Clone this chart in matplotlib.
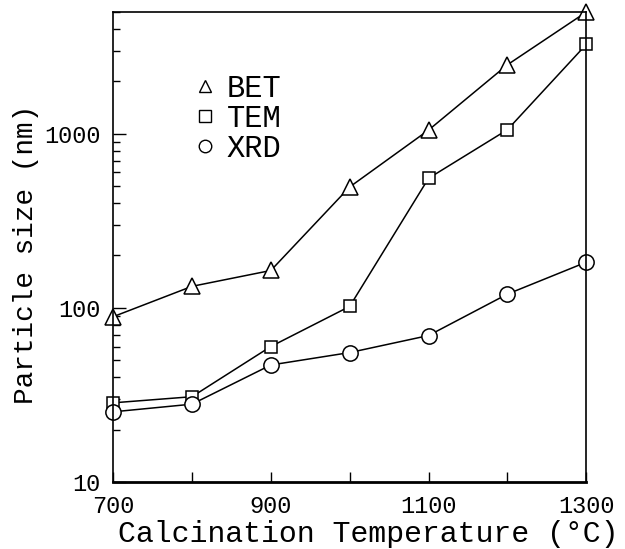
import matplotlib
matplotlib.use("Agg")
import matplotlib.pyplot as plt
from matplotlib.ticker import NullFormatter, LogLocator

# Data
temperatures = [700, 800, 900, 1000, 1100, 1200, 1300]
bet = [89, 133, 164, 495, 1050, 2490, 5000]
tem = [28.5, 30.9, 60, 102, 555, 1055, 3260]
xrd = [25.3, 28, 47, 55.4, 69.4, 120, 183]

x_ticks = [700, 800, 900, 1000, 1100, 1200, 1300]
x_labels = ["700", "", "900", "", "1100", "", "1300"]
y_ticks = [10, 100, 1000]
y_labels = ["10", "100", "1000"]

plt.rcParams['font.family'] = ['Liberation Mono', 'DejaVu Sans']

fig = plt.figure(figsize=(6.25, 5.49), dpi=100)
ax = fig.add_axes([0.181, 0.122, 0.757, 0.856])

style = dict(color='black', lw=1.1, mfc='white', mec='black', mew=1.1, clip_on=False)
ax.plot(temperatures, bet, marker='^', ms=11, **style)
ax.plot(temperatures, tem, marker='s', ms=9, **style)
ax.plot(temperatures, xrd, marker='o', ms=11, **style)

# legend entries: marker only
leg_style = dict(ls='none', mfc='white', mec='black', mew=1.0)
ax.plot([], [], marker='^', ms=9, label='BET', **leg_style)
ax.plot([], [], marker='s', ms=8, label='TEM', **leg_style)
ax.plot([], [], marker='o', ms=9, label='XRD', **leg_style)
ax.legend(loc='upper left', bbox_to_anchor=(0.148, 0.895), frameon=False,
          handlelength=0.6, handletextpad=0.42, labelspacing=0.0,
          fontsize=22, borderaxespad=0)

ax.set_yscale('log')
ax.set_xlim(700, 1300)
ax.set_ylim(10, 5000)

ax.set_xticks(x_ticks)
ax.set_xticklabels(x_labels)
ax.set_yticks(y_ticks)
ax.set_yticklabels(y_labels)
ax.yaxis.set_minor_locator(LogLocator(base=10, subs=range(2, 10)))
ax.yaxis.set_minor_formatter(NullFormatter())

ax.tick_params(axis='x', which='major', direction='in', length=7, width=1,
               labelsize=17, pad=9, top=False)
ax.tick_params(axis='y', which='major', direction='in', length=9, width=1,
               labelsize=17, pad=9, right=False)
ax.tick_params(axis='y', which='minor', direction='in', length=5, width=1, right=False)

for s in ax.spines.values():
    s.set_linewidth(1.2)
ax.spines['bottom'].set_linewidth(2)

ax.set_xlabel('Calcination Temperature (°C)', fontsize=21.5)
ax.xaxis.set_label_coords(0.539, -0.081)
ax.set_ylabel('Particle size (nm)', fontsize=20)
ax.yaxis.set_label_coords(-0.157, 0.485)

fig.savefig('out.png', dpi=100)
